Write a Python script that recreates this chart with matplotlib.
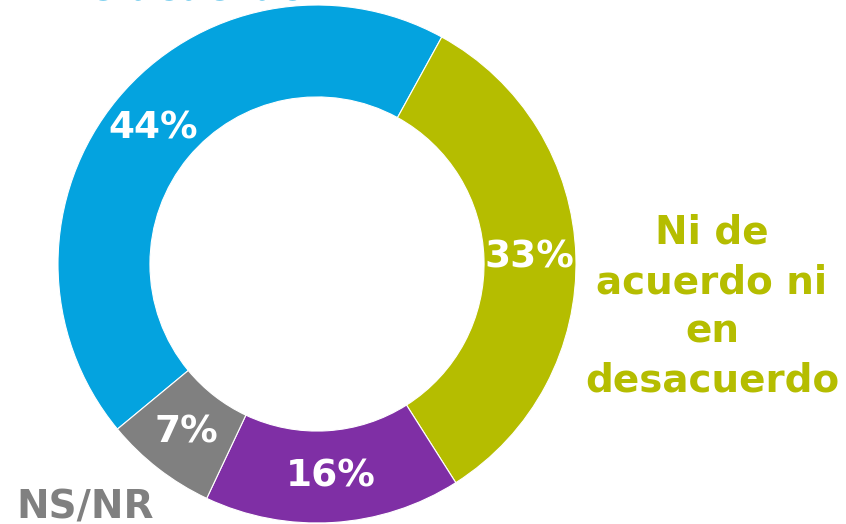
import matplotlib
matplotlib.use("Agg")
import matplotlib.pyplot as plt

categories = ["De acuerdo", "Ni de acuerdo ni en desacuerdo", "En desacuerdo", "NS/NR"]
values = [44, 33, 16, 7]
colors = ["#04A3DF", "#B5BD00", "#7F2FA5", "#808080"]

W, H = 846, 524
fig = plt.figure(figsize=(W / 100, H / 100), dpi=100)
ax = fig.add_axes([0, 0, 1, 1])

R = 259
cx, cy = 317, H - 264
wedges, texts, autotexts = ax.pie(
    values, colors=colors, radius=R, center=(cx, cy),
    startangle=-140.4, counterclock=False,
    wedgeprops=dict(width=R * 0.355, edgecolor="white", linewidth=0.8),
    autopct=lambda p: f"{p:.0f}%", pctdistance=0.822,
    textprops=dict(color="white", fontsize=27, fontweight="bold", family="DejaVu Sans"),
)
for t in autotexts:
    t.set_ha("center")
    t.set_va("center")

ax.set_xlim(0, W)
ax.set_ylim(0, H)
ax.set_aspect("equal")
ax.axis("off")

lab_kw = dict(fontsize=28, fontweight="bold", family="DejaVu Sans", ha="center")
ax.text(181, H + 1, categories[0], color=colors[0], va="baseline", **lab_kw)
ax.text(712, H - 392, "Ni de\nacuerdo ni\nen\ndesacuerdo", color=colors[1],
        va="baseline", linespacing=1.38, **lab_kw)
ax.text(85, 6, categories[3], color=colors[3], va="baseline", **lab_kw)

fig.savefig("out.png", dpi=100)
